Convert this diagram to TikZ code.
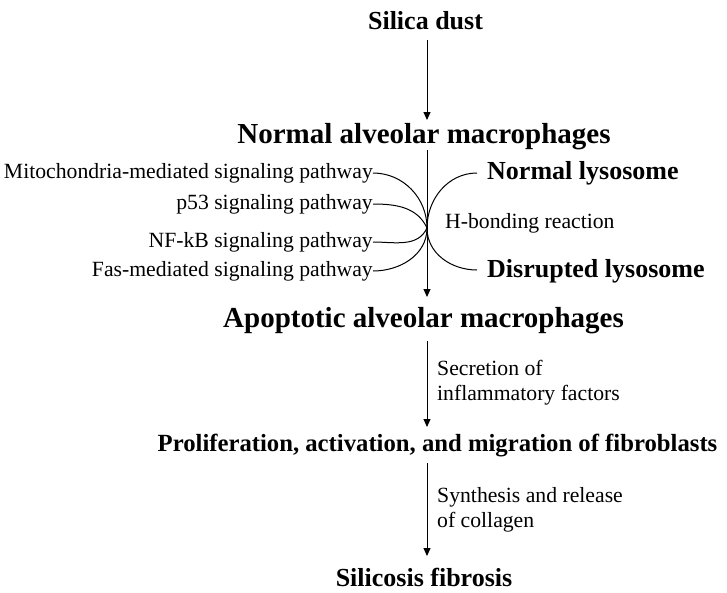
\documentclass[tikz,border=0pt]{standalone}
\usepackage{fontspec}
\setmainfont{Liberation Serif}
\usetikzlibrary{arrows.meta}
\begin{document}
\begin{tikzpicture}[x=1pt,y=-1pt,
  big/.style={font=\fontsize{29}{33}\selectfont\bfseries, inner sep=0pt},
  mid/.style={font=\fontsize{26}{30}\selectfont\bfseries, inner sep=0pt},
  pro/.style={font=\fontsize{24.7}{28}\selectfont\bfseries, inner sep=0pt},
  small/.style={font=\fontsize{21.7}{25}\selectfont, inner sep=0pt},
  arr/.style={-{Triangle[length=8pt,width=7pt]}, line width=1pt},
  ln/.style={line width=1pt}]
\useasboundingbox (0,0) rectangle (727,592);
\node[mid] (silica) at (425.5,21) {Silica dust};
\node[big] (normal) at (424,137) {Normal alveolar macrophages};
\node[big] (apop) at (423.5,321) {Apoptotic alveolar macrophages};
\node[pro] (prolif) at (437.5,446) {Proliferation, activation, and migration of fibroblasts};
\node[mid] (silicosis) at (424,577) {Silicosis fibrosis};
\node[small, anchor=east] (mito) at (373,173) {Mitochondria-mediated signaling pathway};
\node[small, anchor=east] (p53) at (373,204) {p53 signaling pathway};
\node[small, anchor=east] (nfkb) at (373,242) {NF-kB signaling pathway};
\node[small, anchor=east] (fas) at (373,271) {Fas-mediated signaling pathway};
\node[mid, anchor=west] (nlys) at (487,173) {Normal lysosome};
\node[mid, anchor=west] (dlys) at (487,271) {Disrupted lysosome};
\node[small, anchor=west] (hbond) at (445,223) {H-bonding reaction};
\node[small, anchor=west, align=left] (secr) at (437,383) {Secretion of\\inflammatory factors};
\node[small, anchor=west, align=left] (synth) at (437,510) {Synthesis and release\\of collagen};
\coordinate (meet) at (427,228);
\coordinate (a1) at (427,40);
\coordinate (b1) at (427,120);
\coordinate (a2) at (427,150);
\coordinate (b2) at (427,297);
\coordinate (a3) at (427,341);
\coordinate (b3) at (427,427);
\coordinate (a4) at (427,463);
\coordinate (b4) at (427,556);
\coordinate (nl) at (477,173);
\coordinate (dl) at (477,270);
\draw[arr] (a1) -- (b1);
\draw[arr] (a2) -- (b2);
\draw[arr] (a3) -- (b3);
\draw[arr] (a4) -- (b4);
\draw[ln] (mito.east) to[out=0,in=90] (meet);
\draw[ln] (p53.east) to[out=0,in=115] (meet);
\draw[ln] (nfkb.east) to[out=0,in=245] (meet);
\draw[ln] (fas.east) to[out=0,in=270] (meet);
\draw[ln] (nl) to[out=180,in=90] (meet);
\draw[ln] (dl) to[out=180,in=270] (meet);
\end{tikzpicture}
\end{document}
